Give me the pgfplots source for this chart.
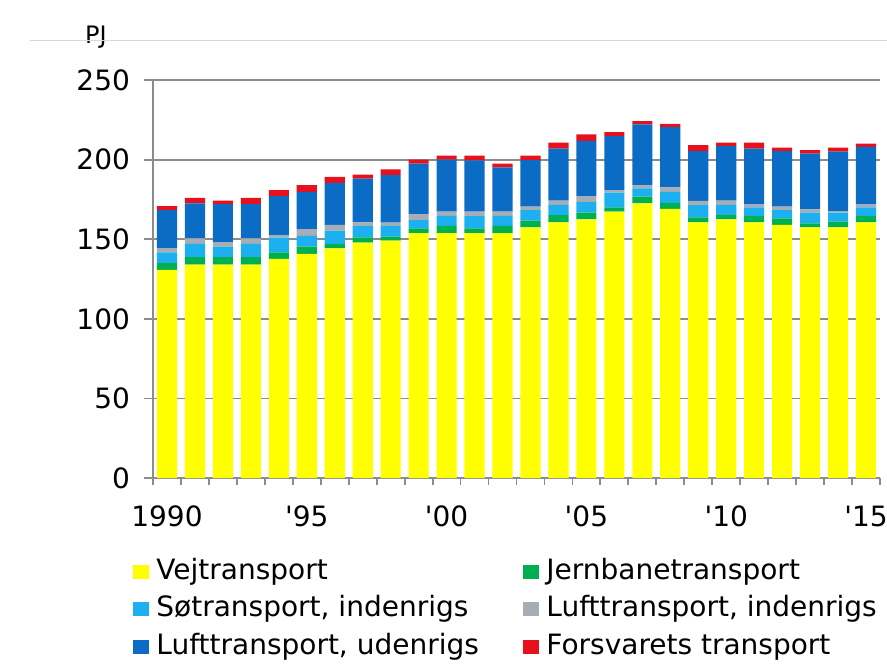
\documentclass[border=0pt]{standalone}
\usepackage{pgfplots}
\pgfplotsset{compat=1.18}
\usepackage{pgfplotstable}
\usepackage{fontspec}
\setmainfont{DejaVu Sans}
\definecolor{cVej}{HTML}{FFFF00}
\definecolor{cJern}{HTML}{00B050}
\definecolor{cSoe}{HTML}{1CB0F0}
\definecolor{cLind}{HTML}{A6ADB5}
\definecolor{cLud}{HTML}{0A6CC4}
\definecolor{cFors}{HTML}{E8101C}
\definecolor{cGrid}{HTML}{8C8C8C}

\pgfplotstableread{
year vej jern soe lind lud fors
1990 130.8 4.2 6.7 2.7 23.9 2.5
1991 134.0 4.75 8.3 3.5 21.9 3.5
1992 134.0 4.75 6.65 2.7 24.0 2.1
1993 134.0 4.75 8.3 3.5 21.5 3.9
1994 137.7 4.0 9.3 1.5 24.6 3.7
1995 140.8 4.6 6.7 4.2 23.5 4.2
1996 144.2 2.9 8.3 3.6 26.4 3.8
1997 147.9 3.3 7.0 2.3 27.5 2.5
1998 149.1 2.6 6.6 2.1 29.9 3.6
1999 153.75 3.1 5.2 3.7 31.7 2.5
2000 153.75 4.6 6.3 2.7 32.7 2.5
2001 153.75 3.1 7.7 2.7 32.3 2.9
2002 153.75 4.6 6.3 2.7 27.7 2.5
2003 157.5 4.2 6.6 2.1 29.2 2.9
2004 160.6 4.6 6.3 2.7 32.7 3.7
2005 162.5 4.2 6.8 3.6 34.6 4.1
2006 167.3 2.7 9.2 1.6 34.0 2.5
2007 172.5 4.2 5.2 2.1 38.1 2.1
2008 169.0 3.9 6.9 2.7 37.9 2.1
2009 160.6 3.1 7.75 2.7 31.2 3.8
2010 162.5 2.7 6.3 2.7 34.3 2.1
2011 160.6 4.0 5.4 2.1 34.8 3.7
2012 159.0 4.1 5.2 2.1 35.0 2.1
2013 157.5 2.5 6.7 2.1 35.0 2.1
2014 157.5 3.5 5.7 1.0 37.3 2.5
2015 160.6 4.0 5.4 2.1 35.9 2.1
}\data

\begin{document}
\begin{tikzpicture}
\begin{axis}[
  name=ax,
  scale only axis,
  width=363.5pt, height=199pt,
  xmin=1989.5, xmax=2015.5,
  ymin=0, ymax=250,
  ybar stacked, bar width=0.72,
  axis x line*=bottom, axis y line*=left,
  axis line style={draw=cGrid, line width=0.9pt},
  ytick={0,50,...,250},
  ymajorgrids,
  grid style={draw=cGrid, line width=0.9pt},
  xtick={1990,1995,2000,2005,2010,2015},
  xticklabels={1990,\textquotesingle 95,\textquotesingle 00,\textquotesingle 05,\textquotesingle 10,\textquotesingle 15},
  minor xtick={1989.5,1990.5,1991.5,1992.5,1993.5,1994.5,1995.5,1996.5,1997.5,1998.5,1999.5,2000.5,2001.5,2002.5,2003.5,2004.5,2005.5,2006.5,2007.5,2008.5,2009.5,2010.5,2011.5,2012.5,2013.5,2014.5,2015.5},
  tick align=outside,
  major tick length=4.5pt,
  minor tick length=3.5pt,
  major x tick style={draw=none},
  minor x tick style={draw=cGrid, line width=0.9pt},
  ytick style={draw=cGrid, line width=0.9pt},
  tick label style={font=\fontsize{14pt}{17pt}\selectfont},
  /pgf/number format/assume math mode=true,
  xticklabel style={yshift=-6pt},
  yticklabel style={xshift=-3.5pt},
  clip=false,
  every axis plot/.append style={draw=none},
  legend columns=2,
  legend cell align=left,
  legend style={
    at={(-0.0275,-0.2)}, anchor=north west,
    draw=none, fill=none, inner sep=0pt,
    font=\fontsize{14pt}{17pt}\selectfont,
    nodes={inner sep=0pt, text height=10.5pt, text depth=3pt},
    /tikz/row sep=5.25pt,
    /tikz/column sep=0pt,
    /tikz/every odd column/.style={column sep=3.5pt},
  },
  legend image code/.code={\fill[#1] (0pt,-3.5pt) rectangle (8pt,3.5pt);},
]
\addplot+[fill=cVej] table[x=year,y=vej]{\data};
\addlegendentry{\makebox[183.5pt][l]{Vejtransport}}
\addplot+[fill=cJern] table[x=year,y=jern]{\data};
\addlegendentry{Jernbanetransport}
\addplot+[fill=cSoe] table[x=year,y=soe]{\data};
\addlegendentry{\makebox[183.5pt][l]{Søtransport, indenrigs}}
\addplot+[fill=cLind] table[x=year,y=lind]{\data};
\addlegendentry{Lufttransport, indenrigs}
\addplot+[fill=cLud] table[x=year,y=lud]{\data};
\addlegendentry{\makebox[183.5pt][l]{Lufttransport, udenrigs}}
\addplot+[fill=cFors] table[x=year,y=fors]{\data};
\addlegendentry{Forsvarets transport}
\draw[draw=black!15, line width=0.5pt] (rel axis cs:-0.1692,1.0988) -- (rel axis cs:1.05,1.0988);
\node[font=\fontsize{12pt}{14pt}\selectfont, inner sep=0pt] at (rel axis cs:-0.0784,1.1088) {PJ};
\end{axis}
\pgfresetboundingbox
\useasboundingbox ([shift={(-76.5pt,-96pt)}]ax.south west) rectangle ([shift={(367pt,239pt)}]ax.south west);
\end{tikzpicture}
\end{document}
